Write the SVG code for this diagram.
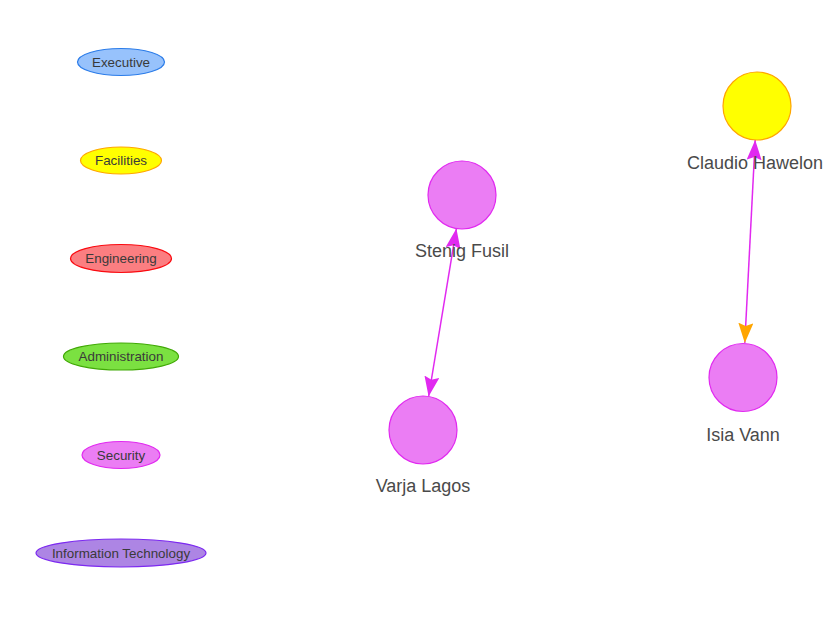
<svg xmlns="http://www.w3.org/2000/svg" width="824" height="620" viewBox="0 0 824 620">
<style>
.leg{stroke-width:1.2}
.lt{font-family:"Liberation Sans",Arial,sans-serif;font-size:13.4px;fill:#3a3a3a;text-anchor:middle}
.nt{font-family:"Liberation Sans",Arial,sans-serif;font-size:18px;fill:#4a4a4a;text-anchor:middle}
.per{fill:#EB7DF4;stroke:#E129F0;stroke-width:1.2}
.edge{stroke:#E129F0;stroke-width:1.5;fill:none}
</style>
<defs>
<marker id="am" markerUnits="userSpaceOnUse" markerWidth="22" markerHeight="16" refX="20" refY="7.5" orient="auto-start-reverse">
<path d="M0,0 L20,7.5 L0,15 L3,7.5 z" fill="#E129F0"/>
</marker>
<marker id="ao" markerUnits="userSpaceOnUse" markerWidth="22" markerHeight="16" refX="20" refY="7.5" orient="auto">
<path d="M0,0 L20,7.5 L0,15 L3,7.5 z" fill="#FFA500"/>
</marker>
</defs>
<rect width="824" height="620" fill="#ffffff"/>
<g id="legend-executive"><ellipse class="leg" cx="121" cy="62" rx="43.5" ry="13.5" fill="#97C2FC" stroke="#2B7CE9"/><text class="lt" x="121" y="66.5">Executive</text></g>
<g id="legend-facilities"><ellipse class="leg" cx="121" cy="160.5" rx="40.5" ry="13.5" fill="#FFFF00" stroke="#FFA500"/><text class="lt" x="121" y="165">Facilities</text></g>
<g id="legend-engineering"><ellipse class="leg" cx="121" cy="258.5" rx="50.5" ry="14" fill="#FB7E81" stroke="#FA0A10"/><text class="lt" x="121" y="263">Engineering</text></g>
<g id="legend-administration"><ellipse class="leg" cx="121" cy="356.5" rx="57.5" ry="13.5" fill="#7BE141" stroke="#41A906"/><text class="lt" x="121" y="361">Administration</text></g>
<g id="legend-security"><ellipse class="leg" cx="121" cy="455" rx="39" ry="13.5" fill="#EB7DF4" stroke="#E129F0"/><text class="lt" x="121" y="459.5">Security</text></g>
<g id="legend-it"><ellipse class="leg" cx="121" cy="553" rx="85" ry="14" fill="#AD85E4" stroke="#7C29F0"/><text class="lt" x="121" y="557.5">Information Technology</text></g>
<g id="connectors">
<line class="edge" x1="456.4" y1="228.5" x2="428.6" y2="396.5" marker-start="url(#am)" marker-end="url(#am)"/>
<line class="edge" x1="755.2" y1="140" x2="744.8" y2="343" marker-start="url(#am)" marker-end="url(#ao)"/>
</g>
<g id="node-stenig"><circle class="per" cx="462" cy="195" r="34"/><text class="nt" x="462" y="257">Stenig Fusil</text></g>
<g id="node-varja"><circle class="per" cx="423" cy="430" r="34"/><text class="nt" x="423" y="492">Varja Lagos</text></g>
<g id="node-claudio"><circle cx="757" cy="106" r="34" fill="#FFFF00" stroke="#FFA500" stroke-width="1.2"/><text class="nt" x="755" y="169">Claudio Hawelon</text></g>
<g id="node-isia"><circle class="per" cx="743" cy="377.5" r="34"/><text class="nt" x="743" y="441">Isia Vann</text></g>
</svg>
